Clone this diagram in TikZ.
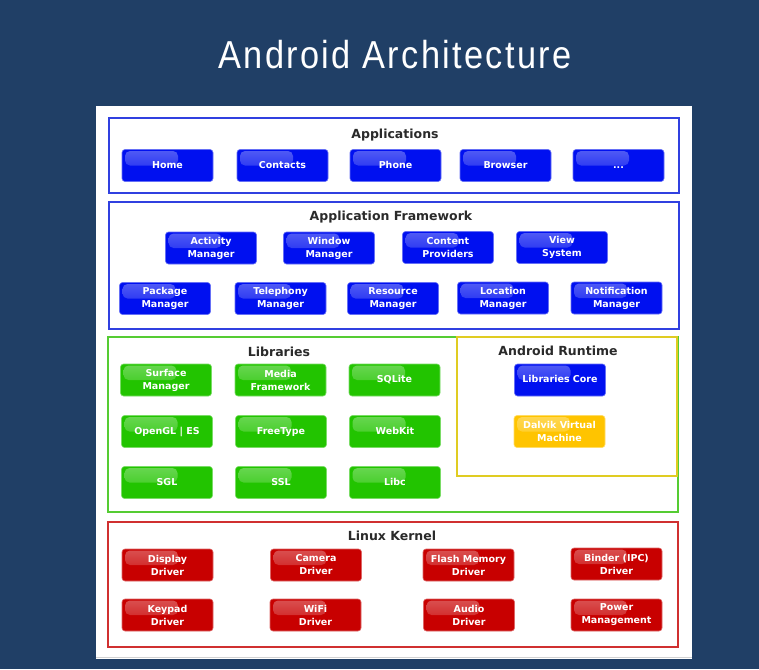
\documentclass[tikz,border=0pt]{standalone}
\usepackage{fontspec}
\setmainfont{DejaVu Sans}
\newfontfamily\titlefont[FakeStretch=0.88,LetterSpace=6]{Liberation Sans}
\usetikzlibrary{positioning}
\definecolor{bgblue}{HTML}{203F66}
\definecolor{bblue}{HTML}{0010F0}
\definecolor{bgreen}{HTML}{22C400}
\definecolor{byellow}{HTML}{FFC400}
\definecolor{bred}{HTML}{C80000}
\definecolor{lblue}{HTML}{3040E0}
\definecolor{lgreen}{HTML}{55CC33}
\definecolor{lyellow}{HTML}{E0CC22}
\definecolor{lred}{HTML}{D03030}
\definecolor{ttl}{HTML}{2A2A2A}
\tikzset{
  btn/.style={rectangle, rounded corners=3pt, fill=#1, draw=#1!60!white, line width=0.6pt,
    minimum width=91pt, minimum height=32pt, inner sep=1pt, align=center,
    text=white, font=\bfseries\fontsize{9.5}{13}\selectfont,
    path picture={\shade[top color=#1!68!white, bottom color=#1!95!white, rounded corners=5pt]
      ([xshift=3pt,yshift=-1.5pt]path picture bounding box.north west) rectangle
      ([xshift=56pt,yshift=-16pt]path picture bounding box.north west);}},
  oneline/.style={text height=7pt, text depth=2pt},
  group/.style={draw=#1, line width=1.5pt, fill=white},
  gtitle/.style={font=\bfseries\fontsize{12.5}{14}\selectfont, text=ttl, inner sep=0pt},
}
\begin{document}
\begin{tikzpicture}[x=1pt,y=-1pt]
\fill[bgblue] (0,0) rectangle (759,669);
\useasboundingbox (0,0) rectangle (759,669);
\node[font=\titlefont\fontsize{39}{40}\selectfont, text=white, inner sep=0pt] (title) at (395,55) {Android Architecture};
\fill[white] (96,106) rectangle (692,659);
\draw[gray!35,line width=1pt] (96,657) -- (692,657);

% Applications
\draw[group=lblue] (109,118) rectangle (679,193);
\node[gtitle] (tapp) at (395,135) {Applications};
\node[btn=bblue,oneline] (home) at (167.5,165.5) {Home};
\node[btn=bblue,oneline] (contacts) at (282.5,165.5) {Contacts};
\node[btn=bblue,oneline] (phone) at (395.5,165.5) {Phone};
\node[btn=bblue,oneline] (browser) at (505.5,165.5) {Browser};
\node[btn=bblue,oneline] (dots) at (618.5,165.5) {...};

% Application Framework
\draw[group=lblue] (109,202) rectangle (679,329);
\node[gtitle] (tfw) at (391,217) {Application Framework};
\node[btn=bblue] (activity) at (211,248) {Activity\\Manager};
\node[btn=bblue] (window) at (329,248) {Window\\Manager};
\node[btn=bblue] (content) at (448,247.5) {Content\\Providers};
\node[btn=bblue] (view) at (562,247.5) {View\\System};
\node[btn=bblue] (package) at (165,298.5) {Package\\Manager};
\node[btn=bblue] (telephony) at (280.5,298.5) {Telephony\\Manager};
\node[btn=bblue] (resource) at (393,298.5) {Resource\\Manager};
\node[btn=bblue] (location) at (503,298) {Location\\Manager};
\node[btn=bblue] (notification) at (616.5,298) {Notification\\Manager};

% Libraries
\draw[group=lgreen] (108,337) rectangle (678,512);
\node[gtitle] (tlib) at (279,352) {Libraries};
\node[btn=bgreen] (surface) at (166,380) {Surface\\Manager};
\node[btn=bgreen] (media) at (280.5,380) {Media\\Framework};
\node[btn=bgreen,oneline] (sqlite) at (394.5,380) {SQLite};
\node[btn=bgreen,oneline] (opengl) at (167,431.5) {OpenGL | ES};
\node[btn=bgreen,oneline] (freetype) at (281,431.5) {FreeType};
\node[btn=bgreen,oneline] (webkit) at (395,431.5) {WebKit};
\node[btn=bgreen,oneline] (sgl) at (167,482.5) {SGL};
\node[btn=bgreen,oneline] (ssl) at (281,482.5) {SSL};
\node[btn=bgreen,oneline] (libc) at (395,482.5) {Libc};

% Android Runtime
\draw[group=lyellow] (457,337) rectangle (677,476);
\node[gtitle] (trt) at (558,351) {Android Runtime};
\node[btn=bblue,oneline] (libcore) at (560,380) {Libraries Core};
\node[btn=byellow] (dalvik) at (559.5,431.5) {Dalvik Virtual\\Machine};

% Linux Kernel
\draw[group=lred] (108,522) rectangle (678,647);
\node[gtitle] (tlk) at (392,536) {Linux Kernel};
\node[btn=bred] (display) at (167.5,565) {Display\\Driver};
\node[btn=bred] (camera) at (316,565) {Camera\\Driver};
\node[btn=bred] (flash) at (468.5,565) {Flash Memory\\Driver};
\node[btn=bred] (binder) at (616.5,564) {Binder (IPC)\\Driver};
\node[btn=bred] (keypad) at (167.5,615) {Keypad\\Driver};
\node[btn=bred] (wifi) at (315.5,615) {WiFi\\Driver};
\node[btn=bred] (audio) at (469,615) {Audio\\Driver};
\node[btn=bred] (power) at (616.5,615) {Power\\Management};
\end{tikzpicture}
\end{document}
